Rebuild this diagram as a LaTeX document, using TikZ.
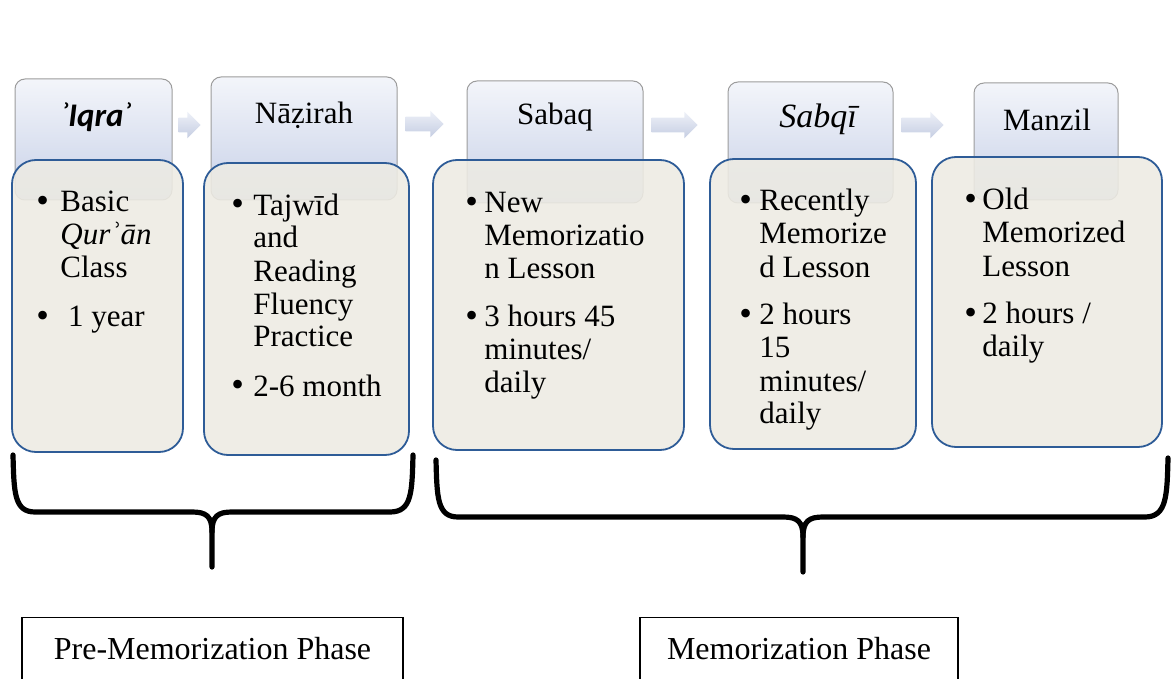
\documentclass[tikz,border=0pt]{standalone}
\usepackage{fontspec}
\setmainfont{Liberation Serif}
\newfontfamily\calib{Carlito}
\usetikzlibrary{shapes.arrows}
\definecolor{hdtop}{HTML}{F3F5FA}
\definecolor{hdbot}{HTML}{C8D1E8}
\definecolor{hdline}{HTML}{9C9C9C}
\definecolor{bodyfill}{HTML}{EDEBE3}
\definecolor{bodyline}{HTML}{2E5C97}
\definecolor{arrtop}{HTML}{EEF1F8}
\definecolor{arrbot}{HTML}{C5CDE2}
\newcommand{\bul}{\hspace*{-0.5pt}\raisebox{-0.4pt}{\fontsize{18}{16.5}\selectfont •}}
\begin{document}
\begin{tikzpicture}[x=0.5pt,y=-0.5pt,
 hdr/.style={draw=hdline, line width=0.5pt, rounded corners=5pt, top color=hdtop, bottom color=hdbot, inner sep=0pt},
 bodybox/.style={draw=bodyline, line width=0.9pt, rounded corners=12pt, fill=bodyfill, fill opacity=0.88, inner sep=0pt},
 htext/.style={font=\fontsize{15.5}{18}\selectfont, inner sep=0pt, anchor=base},
 btext/.style={font=\fontsize{15.5}{16.5}\selectfont, inner sep=0pt, anchor=base west, align=left},
 arr/.style={single arrow, single arrow head extend=3pt, inner xsep=0pt, inner ysep=3.5pt, top color=arrtop, bottom color=arrbot, draw=none},
 brace/.style={line width=2.6pt, line cap=round, line join=round},
 phase/.style={draw, line width=0.6pt, anchor=north, font=\fontsize{16}{19}\selectfont, text height=11pt, text depth=30pt, inner ysep=10pt}]
\useasboundingbox (0,0) rectangle (1171,679);
\clip (0,0) rectangle (1171,679);
% headers
\node[hdr, minimum width=78.5pt, minimum height=60.5pt] (h1) at (93.5,139.5) {};
\node[hdr, minimum width=93pt, minimum height=61.5pt] (h2) at (304,138.5) {};
\node[hdr, minimum width=88pt, minimum height=61pt] (h3) at (555,142) {};
\node[hdr, minimum width=82.5pt, minimum height=60.5pt] (h4) at (810.5,142.5) {};
\node[hdr, minimum width=72pt, minimum height=58.5pt] (h5) at (1046,141.5) {};
% arrows
\node[arr, minimum height=11pt] (a1) at (186,125) {};
\node[arr, minimum height=19pt] (a2) at (421,124) {};
\node[arr, minimum height=23pt] (a3) at (671,125) {};
\node[arr, minimum height=21pt] (a4) at (919,125) {};
% header texts
\node[htext] (t1) at (96,127) {\calib\fontsize{16.5}{18}\selectfont\bfseries\itshape ʾIqraʾ};
\node[htext] (t2) at (304,124) {Nāẓirah};
\node[htext] (t3) at (555,125) {Sabaq};
\node[htext] (t4) at (818,128) {\fontsize{17}{18}\selectfont\itshape Sabqī};
\node[htext] (t5) at (1047,131) {Manzil};
% bodies
\node[bodybox, minimum width=85.5pt, minimum height=146pt] (b1) at (97.5,306) {};
\node[bodybox, minimum width=102.5pt, minimum height=146pt] (b2) at (306.5,309) {};
\node[bodybox, minimum width=125.5pt, minimum height=145pt] (b3) at (558.5,305) {};
\node[bodybox, minimum width=103pt, minimum height=145pt] (b4) at (813,304) {};
\node[bodybox, minimum width=115pt, minimum height=145pt] (b5) at (1047,302) {};
% body texts
\node[btext] (l1) at (37,212) {\begin{tabular}[t]{@{}p{11.5pt}@{}l@{}}\bul&Basic\\ &\textit{Qurʾān}\\ &Class\\[8pt] \bul&\ 1 year\end{tabular}};
\node[btext] (l2) at (232,215) {\begin{tabular}[t]{@{}p{10.5pt}@{}l@{}}\bul&Tajwīd\\ &and\\ &Reading\\ &Fluency\\ &Practice\\[8pt] \bul&2-6 month\end{tabular}};
\node[btext] (l3) at (466,213) {\begin{tabular}[t]{@{}p{9pt}@{}l@{}}\bul&New\\ &Memorizatio\\ &n Lesson\\[7.5pt] \bul&3 hours 45\\ &minutes/\\ &daily\end{tabular}};
\node[btext] (l4) at (740,211) {\begin{tabular}[t]{@{}p{9.5pt}@{}l@{}}\bul&Recently\\ &Memorize\\ &d Lesson\\[7.5pt] \bul&2 hours\\ &15\\ &minutes/\\ &daily\end{tabular}};
\node[btext] (l5) at (965,210) {\begin{tabular}[t]{@{}p{8.5pt}@{}l@{}}\bul&Old\\ &Memorized\\ &Lesson\\[7.5pt] \bul&2 hours /\\ &daily\end{tabular}};
% braces
\coordinate (k1) at (212,567);
\coordinate (k2) at (803,572);
\draw[brace] (13,455) .. controls (14,492) and (14,512) .. (35,512) -- (192,512) .. controls (206,512) and (212,516) .. (212,532) -- (k1);
\draw[brace] (413,455) .. controls (412,492) and (412,512) .. (390,512) -- (232,512) .. controls (218,512) and (212,516) .. (212,532);
\draw[brace] (436,460) .. controls (437,497) and (437,517) .. (458,517) -- (783,517) .. controls (797,517) and (803,521) .. (803,537) -- (k2);
\draw[brace] (1168,458) .. controls (1167,495) and (1167,517) .. (1145,517) -- (823,517) .. controls (809,517) and (803,521) .. (803,537);
% phases
\node[phase, minimum width=190.5pt] (p1) at (212.5,617) {Pre-Memorization Phase};
\node[phase, minimum width=159pt] (p2) at (799,617) {Memorization Phase};
\end{tikzpicture}
\end{document}
